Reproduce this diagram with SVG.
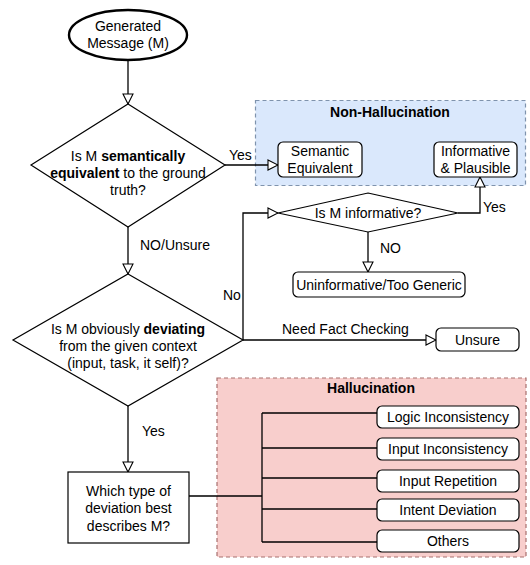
<svg xmlns="http://www.w3.org/2000/svg" width="530" height="565" viewBox="0 0 530 565">
<defs>
<marker id="arr" viewBox="0 0 12 12" refX="11" refY="6" markerUnits="userSpaceOnUse" markerWidth="12" markerHeight="12" orient="auto">
<path d="M1,1 L11,6 L1,11 z" fill="#fff" stroke="#000" stroke-width="1.1"/>
</marker>
</defs>
<style>
text{font-family:"Liberation Sans",Arial,sans-serif;font-size:14px;fill:#000}
.c{text-anchor:middle}
.b{font-weight:bold}
.n{fill:#fff;stroke:#000;stroke-width:1.2}
.r{fill:#fff;stroke:#000;stroke-width:1.2}
.e{fill:none;stroke:#000;stroke-width:1.3}
.a{fill:none;stroke:#000;stroke-width:1.3;marker-end:url(#arr)}
</style>
<g id="group-nonhallucination">
<rect x="255.5" y="100.5" width="270" height="85" fill="#dae8fc" stroke="#7f93ad" stroke-width="1.2" stroke-dasharray="4 3"/>
<text class="c b" x="390" y="117">Non-Hallucination</text>
</g>
<g id="group-hallucination">
<rect x="217" y="378" width="309" height="179" fill="#f8cecc" stroke="#a8706e" stroke-width="1.2" stroke-dasharray="4 3"/>
<text class="c b" x="371" y="393">Hallucination</text>
</g>
<g id="connectors">
<path class="a" d="M128,60 L128,104"/>
<path class="a" d="M128,227 L128,274"/>
<path class="a" d="M225,165 L278,165"/>
<path class="a" d="M243,340 L243,213 L278,213"/>
<path class="a" d="M243,340 L436,340"/>
<path class="a" d="M458,213 L480,213 L480,177"/>
<path class="a" d="M368,232 L368,272"/>
<path class="a" d="M128,406 L128,472"/>
<path class="e" d="M189,496 L262,496 M262,413 L262,542 M262,413 L377,413 M262,448 L377,448 M262,478 L377,478 M262,509 L377,509 M262,542 L377,542"/>
<text x="229" y="160">Yes</text>
<text x="140" y="250">NO/Unsure</text>
<text x="223" y="300">No</text>
<text x="142" y="436">Yes</text>
<text x="483" y="212">Yes</text>
<text x="380" y="253">NO</text>
<text x="282" y="334">Need Fact Checking</text>
</g>
<g id="node-start">
<ellipse cx="128" cy="35" rx="59" ry="25" fill="#fff" stroke="#000" stroke-width="2.4"/>
<text class="c" x="128" y="31">Generated</text>
<text class="c" x="128" y="48">Message (M)</text>
</g>
<g id="node-semantic-q">
<polygon class="n" points="128,104 225,165 128,227 31,165"/>
<text class="c" x="128" y="161">Is M <tspan class="b">semantically</tspan></text>
<text class="c" x="128" y="178"><tspan class="b">equivalent</tspan> to the ground</text>
<text class="c" x="128" y="195">truth?</text>
</g>
<g id="node-semantic-equivalent">
<rect class="r" x="278" y="142" width="84" height="35" rx="5"/>
<text class="c" x="320" y="156">Semantic</text>
<text class="c" x="320" y="173">Equivalent</text>
</g>
<g id="node-informative-plausible">
<rect class="r" x="434" y="142" width="83" height="35" rx="5"/>
<text class="c" x="475.5" y="156">Informative</text>
<text class="c" x="475.5" y="173">&amp; Plausible</text>
</g>
<g id="node-informative-q">
<polygon class="n" points="368,193 458,213 368,232 278,213"/>
<text class="c" x="368" y="218">Is M informative?</text>
</g>
<g id="node-uninformative">
<rect class="r" x="293" y="272" width="172" height="25" rx="5"/>
<text class="c" x="379" y="289.5">Uninformative/Too Generic</text>
</g>
<g id="node-deviating-q">
<polygon class="n" points="128,274 243,340 128,406 13,340"/>
<text class="c" x="128" y="334">Is M obviously <tspan class="b">deviating</tspan></text>
<text class="c" x="128" y="351">from the given context</text>
<text class="c" x="128" y="368">(input, task, it self)?</text>
</g>
<g id="node-unsure">
<rect class="r" x="436" y="328" width="83" height="23" rx="5"/>
<text class="c" x="477.5" y="345">Unsure</text>
</g>
<g id="node-which-type">
<rect class="r" x="68" y="472" width="121" height="71"/>
<text class="c" x="128.5" y="496">Which type of</text>
<text class="c" x="128.5" y="513">deviation best</text>
<text class="c" x="128.5" y="531">describes M?</text>
</g>
<g id="node-logic">
<rect class="r" x="377" y="406" width="142" height="22" rx="5"/>
<text class="c" x="448" y="422">Logic Inconsistency</text>
</g>
<g id="node-input-inconsistency">
<rect class="r" x="377" y="438" width="142" height="22" rx="5"/>
<text class="c" x="448" y="454">Input Inconsistency</text>
</g>
<g id="node-input-repetition">
<rect class="r" x="377" y="470" width="142" height="22" rx="5"/>
<text class="c" x="448" y="486">Input Repetition</text>
</g>
<g id="node-intent-deviation">
<rect class="r" x="377" y="499" width="142" height="22" rx="5"/>
<text class="c" x="448" y="515">Intent Deviation</text>
</g>
<g id="node-others">
<rect class="r" x="377" y="530" width="142" height="22" rx="5"/>
<text class="c" x="448" y="546">Others</text>
</g>
</svg>
